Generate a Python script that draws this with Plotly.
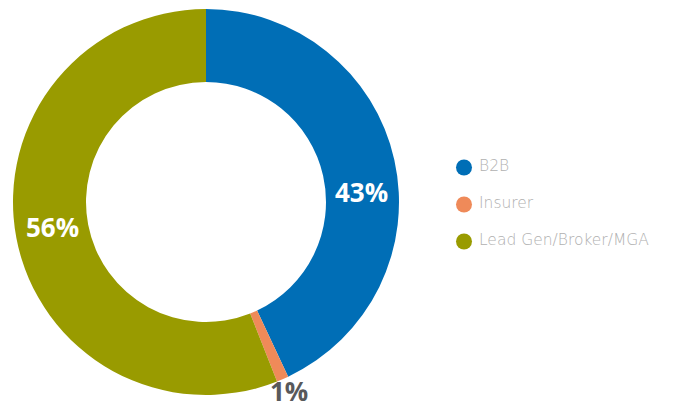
import math
import plotly.graph_objects as go

# ---- data ----
categories = ["B2B", "Insurer", "Lead Gen/Broker/MGA"]
shares = [43, 1, 56]
colors = ["#006EB6", "#EF8A59", "#999B00"]
label_colors = ["#FFFFFF", "#58595B", "#FFFFFF"]

W, H = 679, 411

# pie geometry (pixels) and label placement (angle clockwise from 12 o'clock, radius)
cx, cy, R = 206, 202, 193
hole = 120 / 193
label_angles = [85.5, 157, 261.5]
label_radii = [155.5, 212, 155.5]

fig = go.Figure()

fig.add_trace(go.Pie(
    labels=categories,
    values=shares,
    marker=dict(colors=colors, line=dict(width=0)),
    hole=hole,
    sort=False,
    direction="clockwise",
    rotation=0,
    textinfo="none",
    showlegend=False,
    hoverinfo="skip",
    domain=dict(x=[(cx - R) / W, (cx + R) / W],
                y=[(H - cy - R) / H, (H - cy + R) / H]),
))

total = sum(shares)
annotations = []
FS = 26
for v, col, ang, rad in zip(shares, label_colors, label_angles, label_radii):
    a = math.radians(ang)
    px = cx + rad * math.sin(a)
    py = cy - rad * math.cos(a) + 2
    half_box = FS * 0.68
    if py + half_box > H:          # keep the label box inside the page
        ann_y, yanchor = 0.0, "bottom"
    else:
        ann_y, yanchor = (H - py) / H, "middle"
    annotations.append(dict(
        x=px / W, y=ann_y, xref="paper", yref="paper",
        text=f"{round(100 * v / total)}%", showarrow=False,
        xanchor="center", yanchor=yanchor,
        font=dict(family="Open Sans", size=FS, color=col, weight="bold"),
    ))

# ---- custom legend (circle markers) drawn on a hidden axis ----
dom_x = [0.6, 1.0]
dom_px = (dom_x[1] - dom_x[0]) * W
marker_cx_px = 464
frac = (marker_cx_px - dom_x[0] * W) / dom_px
xr = [-frac, 1 - frac]           # data x = 0 sits at the marker centre
px_per_unit_x = dom_px / 1.0
text_gap_px = 15

legend_top_px, legend_step_px = 167.5, 37
n = len(categories)
yidx = list(range(n - 1, -1, -1))   # first item on top
span = H / legend_step_px
top_frac = (H - legend_top_px) / H
y0 = (n - 1) - top_frac * span
yr = [y0, y0 + span]

fig.add_trace(go.Scatter(
    x=[0] * n, y=yidx, mode="markers",
    marker=dict(size=16, color=colors, symbol="circle", line=dict(width=0)),
    xaxis="x", yaxis="y", showlegend=False, hoverinfo="skip",
))
fig.add_trace(go.Scatter(
    x=[text_gap_px / px_per_unit_x] * n, y=yidx, mode="text",
    text=categories, textposition="middle right",
    textfont=dict(family="DejaVu Sans", size=15.5, color="#B0B0B0", weight=300),
    xaxis="x", yaxis="y", showlegend=False, hoverinfo="skip",
))

axis_off = dict(visible=False, showgrid=False, zeroline=False, fixedrange=True)
fig.update_layout(
    width=W, height=H,
    margin=dict(l=0, r=0, t=0, b=0),
    paper_bgcolor="white", plot_bgcolor="rgba(0,0,0,0)",
    xaxis=dict(domain=dom_x, range=xr, **axis_off),
    yaxis=dict(domain=[0, 1], range=yr, **axis_off),
    annotations=annotations,
    showlegend=False,
)

fig.write_html("out.html")
